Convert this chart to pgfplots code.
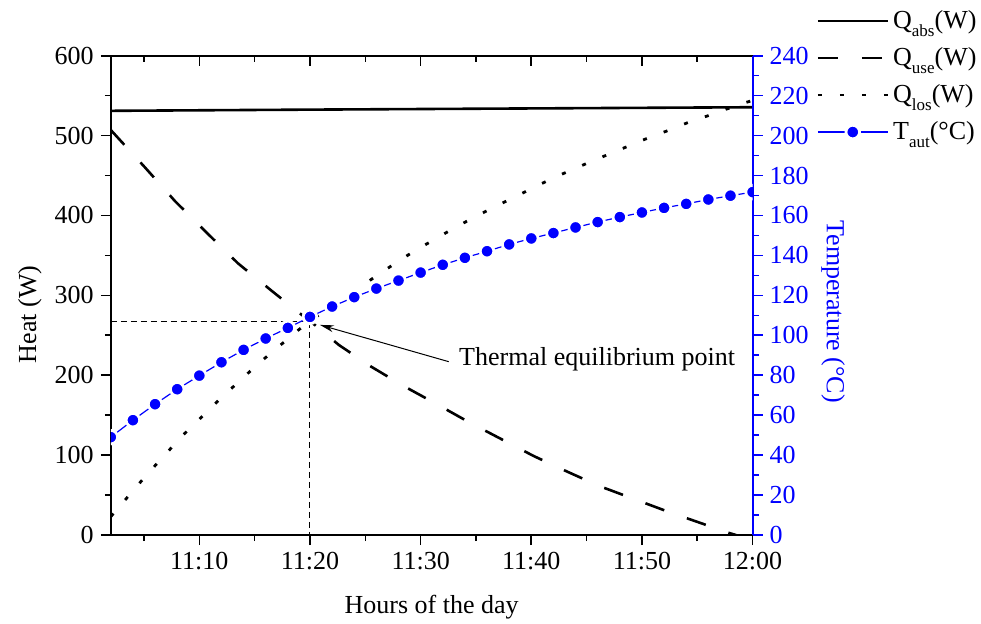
\documentclass[border=0pt]{standalone}
\usepackage{fontspec}
\setmainfont{Liberation Serif}
\usepackage{pgfplots}
\pgfplotsset{compat=1.18}
\usetikzlibrary{arrows.meta}
\definecolor{tblue}{RGB}{0,0,255}
\newcommand{\sub}[1]{\raisebox{-4pt}{\fontsize{8.5}{9}\selectfont #1}}
\newcommand{\tl}[1]{\textrm{#1}}

\begin{document}
\begin{tikzpicture}[font=\fontsize{13}{15}\selectfont]
\pgfplotsset{
  common/.style={
    scale only axis, width=320.9pt, height=239.65pt,
    xmin=2, xmax=60,
    /pgf/number format/assume math mode=true,
    tick align=outside,
    major tick length=5pt, minor tick length=3pt,
    every tick/.style={line width=0.8pt},
    axis line style={line width=1pt},
    ticklabel style={font=\rmfamily\fontsize{13}{15}\selectfont},
    label style={font=\rmfamily\fontsize{13}{15}\selectfont},
  },
  legend image code/.code={\draw[mark repeat=2,mark phase=2,#1] plot coordinates {(0pt,0pt) (17.5pt,0pt) (35pt,0pt)};},
}
% main axis: heat
\begin{axis}[common,
  axis y line*=left, axis x line*=bottom,
  ymin=0, ymax=600, ytick={0,100,...,600}, minor ytick={50,150,...,550},
  yticklabels={\tl{0},\tl{100},\tl{200},\tl{300},\tl{400},\tl{500},\tl{600}},
  xtick={10,20,30,40,50,60},
  xticklabels={\tl{11:10},\tl{11:20},\tl{11:30},\tl{11:40},\tl{11:50},\tl{12:00}},
  minor xtick={5,15,25,35,45,55},
  xlabel={Hours of the day}, ylabel={Heat (W)},
  xlabel style={at={(rel axis cs:0.5,-0.150)}, anchor=center},
  ylabel style={at={(rel axis cs:-0.126,0.46)}, anchor=center},
]
\coordinate (SW) at (rel axis cs:0,0);
% equilibrium guide lines
\addplot[black, line width=0.5pt, dash pattern=on 3pt off 2pt] coordinates {(2,267.7) (20,267.7) (20,0)};
% Q_abs
\addplot[black, line width=1.3pt] coordinates {(2,531) (20,532.5) (40,534) (60,535.5)};
% Q_use
\addplot[black, line width=1.3pt, dash pattern=on 10pt off 12pt] coordinates {
(2,507) (5.1,460) (7.8,418) (10.7,378) (13.5,340) (16.6,305) (19.4,274) (20,268)
(22.6,238) (25.5,211) (28.4,187) (31.3,165) (34.4,141) (37.3,120) (40.2,99)
(43.3,79) (46.2,61) (49.3,45) (52.2,30) (55.3,15) (58,2) (58.5,0)};
% Q_los
\addplot[black, line width=1.4pt, dash pattern=on 2pt off 9pt] coordinates {
(2,23) (5.16,74) (8.38,123) (11.88,170.5) (15.38,215) (18.9,256) (20,268)
(22.5,291) (24.3,308) (26.06,325) (27.8,341) (29.6,357) (31.4,371) (33.1,385)
(34.9,398) (36.7,411) (38.5,423) (40.2,435) (42.0,447) (43.8,458) (45.5,468)
(47.4,479) (48.8,487) (50.55,497) (52.3,506) (54.1,516) (55.9,524.5) (57.6,533)
(59.4,541.5) (60,544)};
\draw[line width=0.5pt, -{Stealth[length=7pt,width=3.5pt]}] (axis cs:32.54,217) -- (axis cs:20.9,263);
\node[anchor=west, inner sep=0pt] at (axis cs:33.45,219.5) {Thermal equilibrium point};
\end{axis}
% top axis with inward ticks
\begin{axis}[common,
  axis x line*=top, axis y line=none,
  ymin=0, ymax=600,
  tick align=inside,
  xtick={10,20,30,40,50,60}, xticklabels={},
  minor xtick={5,15,25,35,45,55},
]
\end{axis}
% right axis: temperature
\begin{axis}[common,
  axis y line*=right, axis x line=none,
  ymin=0, ymax=240, ytick={0,20,...,240}, minor ytick={10,30,...,230},
  yticklabels={\tl{0},\tl{20},\tl{40},\tl{60},\tl{80},\tl{100},\tl{120},\tl{140},\tl{160},\tl{180},\tl{200},\tl{220},\tl{240}},
  y axis line style={draw=tblue},
  every major y tick/.append style={draw=tblue},
  every minor y tick/.append style={draw=tblue},
  yticklabel style={text=tblue},
  ylabel={Temperature (°C)},
  ylabel style={text=tblue, at={(rel axis cs:1.1253,0.466)}, anchor=center, rotate=180},
  clip marker paths=true,
  legend style={draw=none, fill=none, at={(rel axis cs:1.0894,1.112)}, anchor=north west,
    row sep=4pt, font=\fontsize{13}{15}\selectfont,
    /tikz/every even column/.append style={column sep=0pt}},
  legend cell align=left,
]
\addlegendimage{black, line width=1.3pt}
\addlegendentry{Q\sub{abs}(W)}
\addlegendimage{black, line width=1.3pt, dash pattern=on 10pt off 12pt}
\addlegendentry{Q\sub{use}(W)}
\addlegendimage{black, line width=1.4pt, dash pattern=on 2pt off 9pt}
\addlegendentry{Q\sub{los}(W)}
\addplot[tblue, line width=0.6pt, mark=*, mark size=3.4pt,
  mark options={fill=tblue, draw=white, line width=1.4pt, solid}] coordinates {
(2,49.0) (4,57.5) (6,65.5) (8,73.0) (10,79.8) (12,86.5) (14,92.7) (16,98.4)
(18,103.7) (20,109.2) (22,114.4) (24,119.1) (26,123.4) (28,127.4) (30,131.4)
(32,135.3) (34,138.8) (36,142.1) (38,145.5) (40,148.5) (42,151.2) (44,154.0)
(46,156.7) (48,159.2) (50,161.5) (52,163.8) (54,165.8) (56,168.0) (58,169.9)
(60,171.7)};
\addlegendentry{T\sub{aut}(°C)}
\end{axis}
\pgfresetboundingbox
\path ([shift={(-55.4pt,-44pt)}]SW) rectangle ([shift={(435.1pt,267.5pt)}]SW);
\end{tikzpicture}
\end{document}
